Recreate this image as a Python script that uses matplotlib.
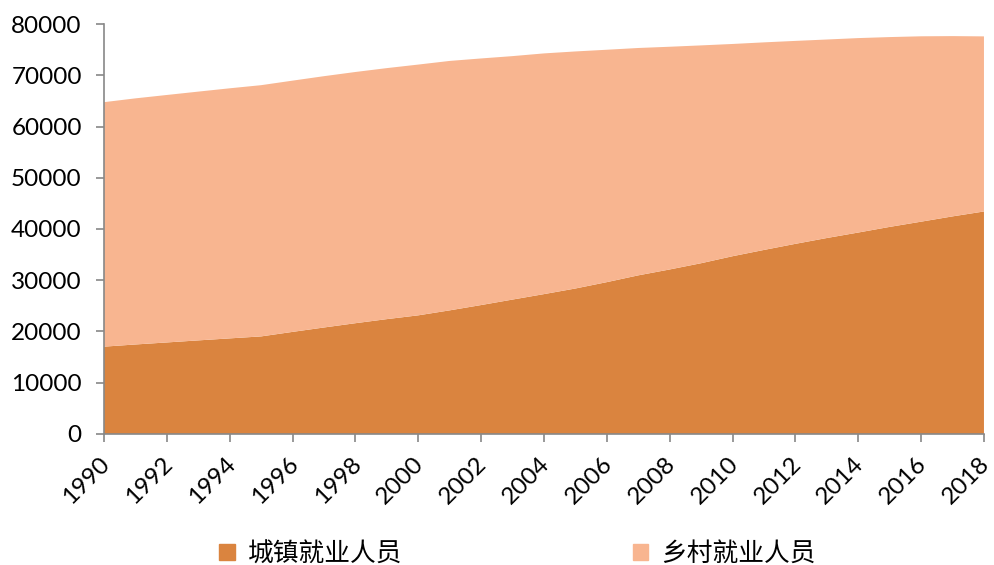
import numpy as np
import matplotlib.pyplot as plt
import matplotlib.transforms as mtrans
from matplotlib.patches import Patch

plt.rcParams['font.family'] = ['Lato', 'Noto Sans CJK SC', 'DejaVu Sans']

years = list(range(1990, 2019))
# 城镇就业人员 (万人)
urban = [17041, 17465, 17861, 18262, 18653, 19040, 19922, 20781, 21616, 22412,
         23151, 24123, 25159, 26230, 27293, 28389, 29630, 30953, 32103, 33322,
         34687, 35914, 37102, 38240, 39310, 40410, 41428, 42462, 43419]
# 全部就业人员
total = [64749, 65491, 66152, 66808, 67455, 68065, 68950, 69820, 70637, 71394,
         72085, 72797, 73280, 73736, 74264, 74647, 74978, 75321, 75564, 75828,
         76105, 76420, 76704, 76977, 77253, 77451, 77603, 77640, 77586]
rural = [t - u for t, u in zip(total, urban)]

labels = ['城镇就业人员', '乡村就业人员']
colors = ['#DA843F', '#F8B590']

fig = plt.figure(figsize=(9.94, 5.65), dpi=100)
ax = fig.add_axes([0.1046, 0.2319, 0.8853, 0.7256])
ax.stackplot(years, urban, rural, colors=colors, linewidth=0)

ax.set_xlim(1990, 2018)
ax.set_ylim(0, 80000)
ax.set_xticks(list(range(1990, 2019, 2)))
ax.set_yticks(list(range(0, 80001, 10000)))
ax.tick_params(axis='both', colors='#888888', labelcolor='black', labelsize=17.5,
               length=6, width=1.2)
ax.tick_params(axis='x', pad=8)
ax.tick_params(axis='y', pad=10)
shift = mtrans.ScaledTranslation(-5 / 100, 0, fig.dpi_scale_trans)
for lab in ax.get_xticklabels():
    lab.set_rotation(45)
    lab.set_ha('right')
    lab.set_va('top')
    lab.set_rotation_mode('anchor')
    lab.set_transform(lab.get_transform() + shift)
for s in ['top', 'right']:
    ax.spines[s].set_visible(False)
for s in ['left', 'bottom']:
    ax.spines[s].set_color('#888888')
    ax.spines[s].set_linewidth(1.2)

handles = [Patch(color=c, label=l) for c, l in zip(colors, labels)]
fig.legend(handles=handles, loc='center', bbox_to_anchor=(0.5206, 0.02), ncol=2,
           frameon=False, fontsize=18.5, handlelength=0.6, handleheight=0.6,
           handletextpad=0.5, columnspacing=8.97)

fig.savefig('out.png', dpi=100)
